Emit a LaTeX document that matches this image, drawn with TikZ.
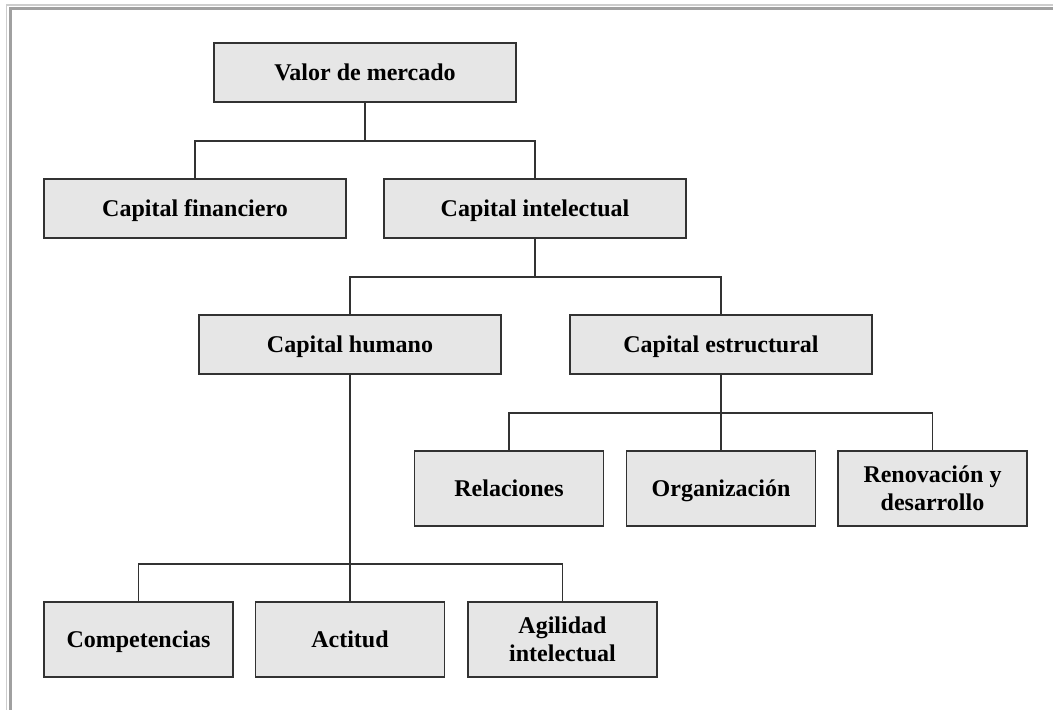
\documentclass[tikz,border=0pt]{standalone}
\usepackage{fontspec}
\setmainfont{Liberation Serif}
\definecolor{boxfill}{RGB}{230,230,230}
\definecolor{boxline}{RGB}{50,50,50}
\definecolor{framelight}{RGB}{205,205,205}
\definecolor{framedark}{RGB}{160,160,160}
\tikzset{
  orgbox/.style={draw=boxline, fill=boxfill, line width=1.1pt, rectangle,
    inner sep=0pt, align=center, text height=13pt, text depth=1.5pt,
    font=\fontsize{18}{21}\selectfont\bfseries},
  twoline/.style={text height=, text depth=},
  wide/.style={minimum width=226.5pt, minimum height=44.25pt},
  narrow/.style={minimum width=141.5pt, minimum height=56.25pt},
  conn/.style={draw=boxline, line width=0.9pt}
}
\begin{document}
\begin{tikzpicture}[x=0.75pt,y=-0.75pt]
\useasboundingbox (0,0) rectangle (1053,710);
% page frame
\draw[framelight, line width=1.2pt] (6.5,710) -- (6.5,5) -- (1053,5);
\draw[framedark, line width=2.2pt] (10.5,710) -- (10.5,8.5) -- (1053,8.5);

% nodes
\node[orgbox, wide] (valor) at (365,72.5) {Valor de mercado};
\node[orgbox, wide] (fin) at (195,208.5) {Capital financiero};
\node[orgbox, wide] (int) at (535,208.5) {Capital intelectual};
\node[orgbox, wide] (hum) at (350,344.5) {Capital humano};
\node[orgbox, wide] (est) at (721,344.5) {Capital estructural};
\node[orgbox, narrow] (rel) at (509,488.5) {Relaciones};
\node[orgbox, narrow] (org) at (721,488.5) {Organización};
\node[orgbox, narrow, twoline] (ren) at (932.5,488.5) {Renovación y\\desarrollo};
\node[orgbox, narrow] (comp) at (138.5,639.5) {Competencias};
\node[orgbox, narrow] (act) at (350,639.5) {Actitud};
\node[orgbox, narrow, twoline] (agi) at (562.5,639.5) {Agilidad\\intelectual};

% bus levels
\coordinate (b1) at (0,141);
\coordinate (b2) at (0,277);
\coordinate (b3) at (0,413);
\coordinate (b4) at (0,564);

% connectors
\draw[conn] (valor.south) -- (valor.south |- b1) -| (fin.north);
\draw[conn] (valor.south |- b1) -| (int.north);
\draw[conn] (int.south) -- (int.south |- b2) -| (hum.north);
\draw[conn] (int.south |- b2) -| (est.north);
\draw[conn] (est.south) -- (org.north);
\draw[conn] (rel.north) |- (est.south |- b3) -| (ren.north);
\draw[conn] (hum.south) -- (act.north);
\draw[conn] (comp.north) |- (hum.south |- b4) -| (agi.north);
\end{tikzpicture}
\end{document}
